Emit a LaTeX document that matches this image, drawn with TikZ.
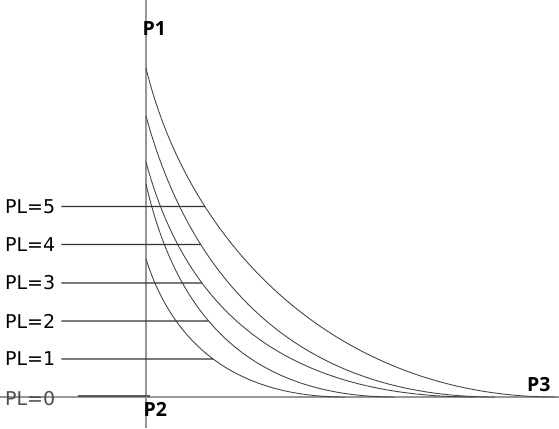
\documentclass[tikz,border=0pt]{standalone}
\usepackage{fontspec}
\setmainfont{DejaVu Sans}
\newfontfamily\pfont{Open Sans}
\usetikzlibrary{intersections,calc}
\definecolor{axisgray}{RGB}{150,150,150}
\definecolor{curvegray}{RGB}{70,70,70}
\begin{document}
\begin{tikzpicture}[x=1pt,y=-1pt,
    axis/.style={draw=axisgray, line width=1.3pt},
    curve/.style={draw=curvegray, line width=0.9pt},
    lead/.style={draw=black!80, line width=1.2pt},
    pl/.style={anchor=west, inner sep=0pt, font=\fontsize{19}{19}\selectfont},
    pnt/.style={anchor=west, inner sep=0pt, font=\pfont\bfseries\fontsize{19.5}{19.5}\selectfont},
  ]
  \useasboundingbox (0,0) rectangle (559,428);
  \draw[axis] (146,0) -- (146,428);
  \draw[axis] (0,397) -- (559,397);
  \draw[curve, name path=c1] (146,68) .. controls (190,249) and (340,397) .. (555,397);
  \draw[curve, name path=c2] (146,116) .. controls (188,270) and (288,397) .. (495,397);
  \draw[curve, name path=c3] (146,162) .. controls (181,291) and (264,397) .. (475,397);
  \draw[curve, name path=c4] (146,184) .. controls (173,301) and (236,397) .. (395,397);
  \draw[curve, name path=c5] (146,259) .. controls (170,335) and (226,397) .. (345,397);
  \node[pl] (pl5) at (5,206.5) {PL=5};
  \node[pl] (pl4) at (5,244.5) {PL=4};
  \node[pl] (pl3) at (5,283) {PL=3};
  \node[pl] (pl2) at (5,321) {PL=2};
  \node[pl] (pl1) at (5,359) {PL=1};
  \node[pl, text=black!70] (pl0) at (5,399) {PL=0};
  \path[name path=h5] (pl5.east) -- ++(300,0);
  \path[name path=h4] (pl4.east) -- ++(300,0);
  \path[name path=h3] (pl3.east) -- ++(300,0);
  \path[name path=h2] (pl2.east) -- ++(300,0);
  \path[name path=h1] (pl1.east) -- ++(300,0);
  \path[name intersections={of=c1 and h5, by=e5}];
  \path[name intersections={of=c2 and h4, by=e4}];
  \path[name intersections={of=c3 and h3, by=e3}];
  \path[name intersections={of=c4 and h2, by=e2}];
  \path[name intersections={of=c5 and h1, by=e1}];
  \draw[lead] ($(pl5.east)+(6,0)$) -- (e5);
  \draw[lead] ($(pl4.east)+(6,0)$) -- (e4);
  \draw[lead] ($(pl3.east)+(6,0)$) -- (e3);
  \draw[lead] ($(pl2.east)+(6,0)$) -- (e2);
  \draw[lead] ($(pl1.east)+(6,0)$) -- (e1);
  \coordinate (e0) at (150,396);
  \draw[lead, draw=black!65, line width=1.8pt] (78,396) -- (e0);
  \node[pnt] (p1) at (142.5,29) {P1};
  \node[pnt] (p2) at (143.5,409.5) {P2};
  \node[pnt] (p3) at (527,385) {P3};
\end{tikzpicture}
\end{document}
